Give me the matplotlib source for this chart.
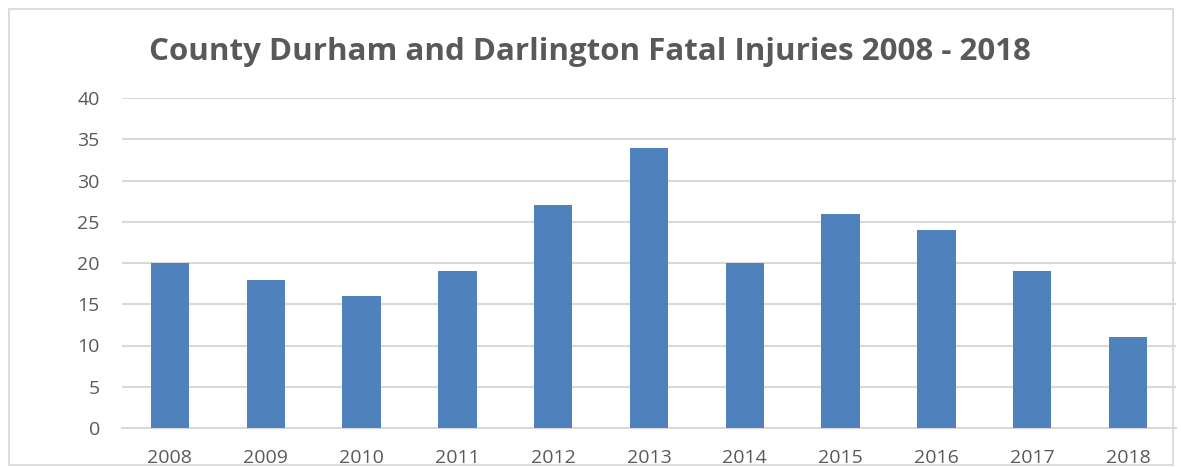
import matplotlib
matplotlib.use("Agg")
import matplotlib.pyplot as plt
from matplotlib.patches import Rectangle

years = ["2008", "2009", "2010", "2011", "2012", "2013", "2014", "2015", "2016", "2017", "2018"]
fatal_injuries = [20, 18, 16, 19, 27, 34, 20, 26, 24, 19, 11]
title = "County Durham and Darlington Fatal Injuries 2008 - 2018"

W, H = 1181, 467
fig = plt.figure(figsize=(W / 100, H / 100), dpi=100)
plt.rcParams['font.family'] = ['Open Sans', 'DejaVu Sans']

# outer chart border
fig.patches.append(Rectangle((9 / W, 2 / H), (1173 - 9) / W, (458 - 2) / H,
                             transform=fig.transFigure, fill=False,
                             edgecolor="#D9D9D9", linewidth=1.3))

ax = fig.add_axes([122 / W, 39 / H, (1176 - 122) / W, (428 - 98) / H])
x = list(range(len(years)))
ax.bar(x, fatal_injuries, width=0.4, color="#4F81BD", zorder=3)
ax.set_xlim(-0.5, len(years) - 0.5)
ax.set_ylim(0, 40)
ax.set_yticks(range(0, 41, 5))
ax.set_xticks(x)
ax.set_xticklabels(years)
ax.grid(axis="y", color="#D9D9D9", linewidth=1.5, zorder=0)
for s in ["top", "right", "left"]:
    ax.spines[s].set_visible(False)
ax.spines["bottom"].set_color("#D9D9D9")
ax.spines["bottom"].set_linewidth(1.5)
ax.tick_params(axis="both", length=0, colors="#595959", labelsize=14)
ax.tick_params(axis="y", pad=16)
ax.tick_params(axis="x", pad=15)

fig.text(590 / W, 1 - 52 / H, title, ha="center", va="center",
         fontsize=22.5, fontweight="bold", color="#595959")

fig.savefig("out.png", dpi=100)
